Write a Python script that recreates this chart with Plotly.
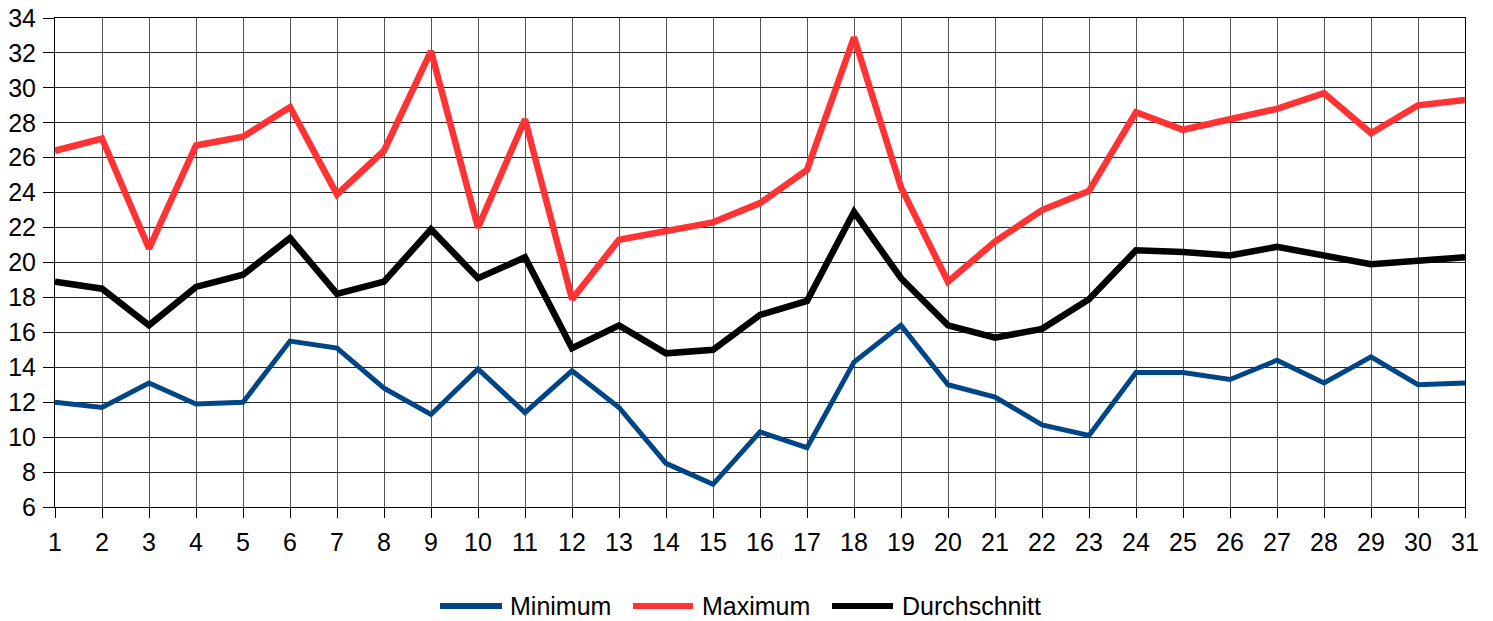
import plotly.graph_objects as go

days = list(range(1, 32))
minimum = [12.0, 11.7, 13.1, 11.9, 12.0, 15.5, 15.1, 12.8, 11.3, 13.9,
           11.4, 13.8, 11.7, 8.5, 7.3, 10.3, 9.4, 14.3, 16.4, 13.0,
           12.3, 10.7, 10.1, 13.7, 13.7, 13.3, 14.4, 13.1, 14.6, 13.0, 13.1]
maximum = [26.4, 27.1, 20.8, 26.7, 27.2, 28.9, 23.9, 26.4, 32.1, 22.0,
           28.2, 17.9, 21.3, 21.8, 22.3, 23.4, 25.3, 32.9, 24.3, 18.9,
           21.2, 23.0, 24.1, 28.6, 27.6, 28.2, 28.8, 29.7, 27.4, 29.0, 29.3]
average = [18.9, 18.5, 16.4, 18.6, 19.3, 21.4, 18.2, 18.9, 21.9, 19.1,
           20.3, 15.1, 16.4, 14.8, 15.0, 17.0, 17.8, 22.9, 19.1, 16.4,
           15.7, 16.2, 17.9, 20.7, 20.6, 20.4, 20.9, 20.4, 19.9, 20.1, 20.3]
y_ticks = list(range(6, 35, 2))

series_names = ["Minimum", "Maximum", "Durchschnitt"]
series_colors = ["#004586", "#ff3333", "#000000"]
series_widths = [5, 6.5, 6.5]
series_values = [minimum, maximum, average]

W, H = 1493, 621
L, R, T, B = 55, 28, 18, 114
pw, ph = W - L - R, H - T - B

fig = go.Figure()
for name, vals, col, wd in zip(series_names, series_values, series_colors, series_widths):
    fig.add_trace(go.Scatter(x=days, y=vals, mode="lines", name=name,
                             line=dict(color=col, width=wd), showlegend=False))

# custom legend (wide line samples like the reference)
legend_line_px = [(440, 502), (633, 693), (832, 893)]
legend_text_px = [508, 700, 900]
legend_y_px = 606
def px_x(p):
    return (p - L) / pw
def px_y(p):
    return (H - B - p) / ph

shapes = []
annotations = []
for (x0, x1), tx, name, col in zip(legend_line_px, legend_text_px, series_names, series_colors):
    shapes.append(dict(type="line", xref="paper", yref="paper",
                       x0=px_x(x0), x1=px_x(x1), y0=px_y(legend_y_px), y1=px_y(legend_y_px),
                       line=dict(color=col, width=6)))
    annotations.append(dict(text=name, xref="paper", yref="paper",
                            x=px_x(tx), y=px_y(legend_y_px), xanchor="left", yanchor="middle",
                            showarrow=False, font=dict(size=25, color="#000")))

fig.update_layout(
    width=W, height=H,
    margin=dict(l=L, r=R, t=T, b=B, autoexpand=False),
    paper_bgcolor="white", plot_bgcolor="white",
    font=dict(family="Liberation Sans, Arial, sans-serif", size=25, color="#000"),
    showlegend=False,
    shapes=shapes,
    annotations=annotations,
)
fig.update_xaxes(range=[1, 31], tickmode="array", tickvals=days,
                 showgrid=True, gridcolor="#555", gridwidth=1,
                 showline=True, linecolor="#000", linewidth=1, mirror=True,
                 ticks="outside", ticklen=10, tickcolor="#000",
                 zeroline=False, ticklabelstandoff=3, automargin=False)
fig.update_yaxes(range=[6, 34], tickmode="array", tickvals=y_ticks,
                 showgrid=True, gridcolor="#222", gridwidth=1,
                 showline=True, linecolor="#000", linewidth=1, mirror=True,
                 ticks="outside", ticklen=11, tickcolor="#000",
                 zeroline=False, ticklabelstandoff=2, automargin=False)

fig.write_html("out.html", config={"displayModeBar": False},
               post_script="document.body.style.margin='0';document.body.style.overflow='hidden';")
